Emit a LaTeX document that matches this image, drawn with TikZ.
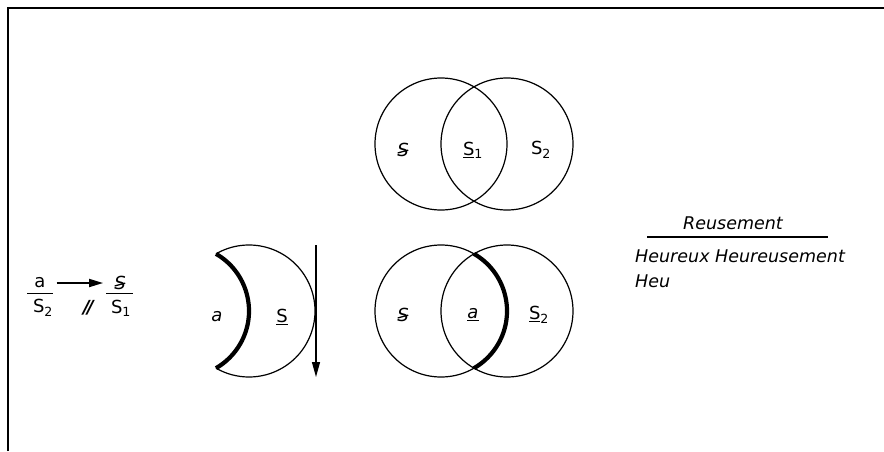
\documentclass[tikz,border=0pt]{standalone}
\usepackage{fontspec}
\setmainfont{DejaVu Sans}
\usepackage{tikz}
\usetikzlibrary{arrows.meta}

\newcommand{\struckS}{\ooalign{\textit{S}\cr\hidewidth\raisebox{0.32ex}{\rotatebox{15}{\rule{0.6em}{0.07em}}}\hidewidth\cr}}

\begin{document}
\begin{tikzpicture}[x=1pt, y=-1pt,
    thin ring/.style={line width=1.2pt},
    heavy arc/.style={line width=4.2pt},
    lbl/.style={font=\fontsize{18}{21}\selectfont, inner sep=1pt},
    txt/.style={font=\fontsize{17.5}{20}\selectfont\itshape, inner sep=1pt}]
    \useasboundingbox (0,0) rectangle (884,451);

    % Frame
    \draw[line width=1.4pt] (8,451) -- (8,8) -- (884,8);

    % Fractions on the left
    \node[lbl] (numA) at (40,283) {a};
    \node[lbl] (denA) at (43,308) {S\textsubscript{2}};
    \draw[line width=1pt] (27,293) -- (53,293);
    \node[lbl] (numS) at (120,283) {\struckS};
    \node[lbl] (denS) at (121,308) {S\textsubscript{1}};
    \draw[line width=1pt] (106,293) -- (133,293);
    \draw[line width=1.8pt, -{Triangle[length=14pt,width=8pt]}] ([xshift=10pt]numA.east) -- ([xshift=-10pt]numS.west);
    \node[lbl] (slashes) at (89,308) {\textbf{\textit{/\kern-0.15em/}}};

    % Moon
    \draw[thin ring] (249,311) ++(120:66pt) arc[start angle=120, end angle=-120, radius=66pt];
    \draw[heavy arc] (183,311) ++(60:66pt) arc[start angle=60, end angle=-60, radius=66pt];
    \node[lbl] (moonA) at (217,317) {\textit{a}};
    \node[lbl] (moonS) at (282,317) {\underline{S}};
    \coordinate (downTop) at (316,245);
    \coordinate (downEnd) at (316,377);
    \draw[line width=1.2pt, -{Triangle[length=15pt,width=8pt]}] (downTop) -- (downEnd);

    % Upper pair of circles
    \draw[thin ring] (441,144) circle[radius=66pt];
    \draw[thin ring] (507,144) circle[radius=66pt];
    \node[lbl] (upL) at (403,150) {\struckS};
    \node[lbl] (upM) at (473,150) {\underline{S}\textsubscript{1}};
    \node[lbl] (upR) at (541,150) {S\textsubscript{2}};

    % Lower pair of circles
    \draw[thin ring] (441,311) circle[radius=66pt];
    \draw[thin ring] (507,311) circle[radius=66pt];
    \draw[heavy arc] (441,311) ++(60:66pt) arc[start angle=60, end angle=-60, radius=66pt];
    \node[lbl] (lowL) at (403,315) {\struckS};
    \node[lbl] (lowM) at (473,315) {\underline{\textit{a}}};
    \node[lbl] (lowR) at (539,315) {\underline{S}\textsubscript{2}};

    % Words on the right
    \node[txt] (reus) at (733,223) {Reusement};
    \draw[line width=1.2pt] (647,237) -- (828,237);
    \node[txt, anchor=west] (heur) at (634,256) {Heureux Heureusement};
    \node[txt, anchor=west] (heu) at (634,281) {Heu};
\end{tikzpicture}
\end{document}
